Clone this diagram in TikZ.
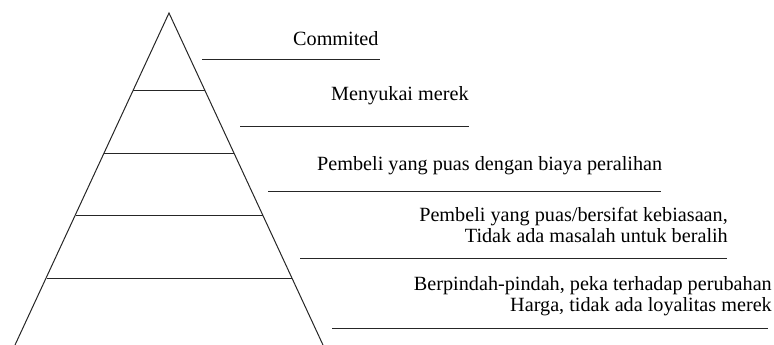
\documentclass[tikz,border=0pt]{standalone}
\usepackage{fontspec}
\setmainfont{Liberation Serif}
\begin{document}
\begin{tikzpicture}[x=1pt,y=-1pt,
  edge/.style={draw=black!85,line width=1pt},
  lbl/.style={inner sep=0pt,font=\fontsize{20.2}{23}\selectfont,text=black}]
\useasboundingbox (0,0) rectangle (774,345);
% pyramid
\coordinate (apex) at (169,13);
\coordinate (bl) at (15,345);
\coordinate (br) at (323,345);
\draw[edge] (bl) -- (apex) -- (br);
\draw[edge] (133,91) -- (205,91);
\draw[edge] (104,153) -- (234,153);
\draw[edge] (76,215) -- (263,215);
\draw[edge] (47,278) -- (292,278);
% label rules
\draw[edge] (202,60) -- (380,60);
\draw[edge] (240,126) -- (469,126);
\draw[edge] (268,191) -- (661,191);
\draw[edge] (300,258) -- (727,258);
\draw[edge] (332,328) -- (768,328);
% labels
\node[lbl,anchor=base west] (t1) at (293,46) {Commited};
\node[lbl,anchor=base west] (t2) at (331,100) {Menyukai merek};
\node[lbl,anchor=base west] (t3) at (317,170) {Pembeli yang puas dengan biaya peralihan};
\node[lbl,anchor=base east] (t4a) at (728,221) {Pembeli yang puas/bersifat kebiasaan,};
\node[lbl,anchor=base east] (t4b) at (728,242) {Tidak ada masalah untuk beralih};
\node[lbl,anchor=base east] (t5a) at (772,290) {Berpindah-pindah, peka terhadap perubahan};
\node[lbl,anchor=base east] (t5b) at (772,311) {Harga, tidak ada loyalitas merek};
\end{tikzpicture}
\end{document}
